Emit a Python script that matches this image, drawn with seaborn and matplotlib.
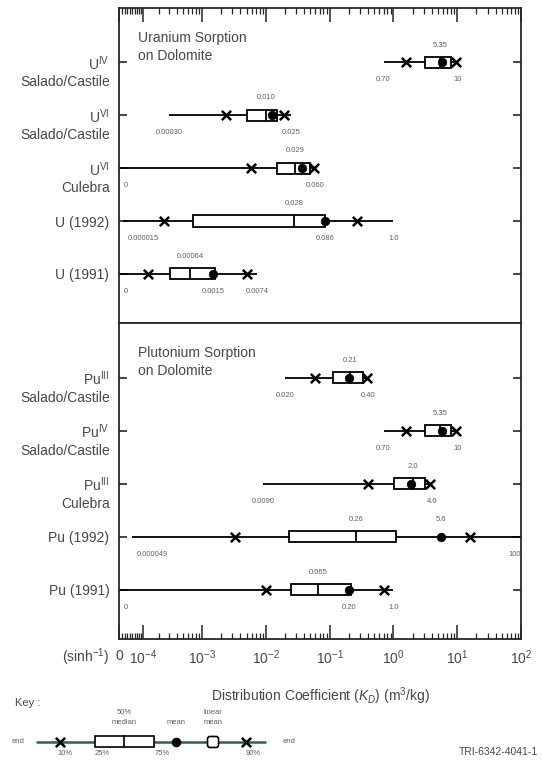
import numpy as np
import pandas as pd
import matplotlib
matplotlib.use("Agg")
import matplotlib.pyplot as plt
from matplotlib.patches import Rectangle, FancyBboxPatch
import seaborn as sns

sns.set_style("ticks")
plt.rcParams["font.family"] = ["Liberation Sans", "DejaVu Sans"]
plt.rcParams["mathtext.fontset"] = "custom"
plt.rcParams["mathtext.rm"] = "Liberation Sans"
plt.rcParams["mathtext.it"] = "Liberation Sans:italic"
plt.rcParams["mathtext.default"] = "regular"

TEXT = "#474747"
SMALL = "#606060"

# ---- Uranium sorption on dolomite ----
u_names = ["U$^{IV}$", "U$^{VI}$", "U$^{VI}$", "U (1992)", "U (1991)"]
u_sites = ["Salado/Castile", "Salado/Castile", "Culebra", "", ""]
u_min = ["0.70", "0.00030", "0", "0.000015", "0"]
u_p10 = [1.6, 0.0024, 0.0059, 0.00024, 0.000126]
u_p25 = [3.1, 0.0050, 0.015, 0.00073, 0.00031]
u_median = ["5.35", "0.010", "0.029", "0.028", "0.00064"]
u_p75 = [8.0, 0.0148, 0.049, 0.085, 0.0016]
u_p90 = [9.6, 0.019, 0.057, 0.27, 0.0050]
u_max = ["10", "0.025", "0.060", "1.0", "0.0074"]
u_mean = ["5.7", "0.0124", "0.037", "0.086", "0.0015"]
u_mean_label = ["", "", "", "below", "below"]

# ---- Plutonium sorption on dolomite ----
pu_names = ["Pu$^{III}$", "Pu$^{IV}$", "Pu$^{III}$", "Pu (1992)", "Pu (1991)"]
pu_sites = ["Salado/Castile", "Salado/Castile", "Culebra", "", ""]
pu_min = ["0.020", "0.70", "0.0090", "0.000049", "0"]
pu_p10 = [0.059, 1.6, 0.40, 0.0033, 0.010]
pu_p25 = [0.115, 3.1, 1.03, 0.023, 0.025]
pu_median = ["0.21", "5.35", "2.0", "0.26", "0.065"]
pu_p75 = [0.33, 8.0, 3.1, 1.1, 0.22]
pu_p90 = [0.38, 9.6, 3.8, 16.0, 0.70]
pu_max = ["0.40", "10", "4.0", "100", "1.0"]
pu_mean = ["0.20", "5.7", "1.9", "5.6", "0.20"]
pu_mean_label = ["", "", "", "above", "below"]

# axis ticks
major_ticks = [0, 1e-4, 1e-3, 1e-2, 1e-1, 1e0, 1e1, 1e2]
major_labels = ["0", "10$^{-4}$", "10$^{-3}$", "10$^{-2}$", "10$^{-1}$",
                "10$^{0}$", "10$^{1}$", "10$^{2}$"]
minor_ticks = [k * 1e-5 for k in range(1, 10)] + \
              [k * 10.0 ** e for e in range(-4, 2) for k in range(2, 10)]


def panel_frame(names, sites, mins, p10, p25, med, p75, p90, maxs, means, mean_lab):
    return pd.DataFrame({
        "row": np.arange(len(names)),
        "name": names, "site": sites,
        "min": [float(v) for v in mins], "min_txt": mins,
        "p10": p10, "p25": p25,
        "median": [float(v) for v in med], "median_txt": med,
        "p75": p75, "p90": p90,
        "max": [float(v) for v in maxs], "max_txt": maxs,
        "mean": [float(v) for v in means], "mean_txt": means,
        "mean_lab": mean_lab,
    })


u_df = panel_frame(u_names, u_sites, u_min, u_p10, u_p25, u_median, u_p75,
                   u_p90, u_max, u_mean, u_mean_label)
pu_df = panel_frame(pu_names, pu_sites, pu_min, pu_p10, pu_p25, pu_median,
                    pu_p75, pu_p90, pu_max, pu_mean, pu_mean_label)

fig = plt.figure(figsize=(5.42, 7.71), dpi=100)
ax_u = fig.add_axes([0.2196, 0.581, 0.7417, 0.4086])
ax_pu = fig.add_axes([0.2196, 0.1712, 0.7417, 0.4098])


def draw_panel(ax, df, title):
    y = df["row"].to_numpy()
    ax.hlines(y, df["min"], df["max"], color="black", lw=1.3, zorder=1)
    ax.barh(y, df["p75"] - df["p25"], left=df["p25"], height=0.21,
            color="white", edgecolor="black", linewidth=1.3, zorder=2)
    ax.vlines(df["median"], y - 0.105, y + 0.105, color="black", lw=1.3, zorder=3)
    pct = df.melt(id_vars="row", value_vars=["p10", "p90"], value_name="kd")
    sns.scatterplot(data=pct, x="kd", y="row", marker="x", color="black",
                    s=45, linewidth=1.8, ax=ax, legend=False, zorder=4)
    sns.scatterplot(data=df, x="mean", y="row", marker="o", color="black",
                    s=38, edgecolor="black", ax=ax, legend=False, zorder=5)

    small = dict(fontsize=5.5, color=SMALL, va="center")
    for _, r in df.iterrows():
        yy = r["row"]
        ax.text(r["median"], yy - 0.33, r["median_txt"], ha="center", **small)
        if r["min"] < 1e-4:
            # values inside the linear zone sit against the axis, so left-align
            ax.annotate(r["min_txt"], xy=(r["min"], yy + 0.33),
                        xytext=(5, 0), textcoords="offset pixels",
                        ha="left", **small)
        else:
            ax.text(r["min"], yy + 0.33, r["min_txt"], ha="center", **small)
        ax.text(r["max"], yy + 0.33, r["max_txt"],
                ha="right" if r["max"] >= 100 else "center", **small)
        if r["mean_lab"]:
            off = -0.33 if r["mean_lab"] == "above" else 0.33
            ax.text(r["mean"], yy + off, r["mean_txt"], ha="center", **small)
        if r["site"]:
            ax.annotate(r["site"], xy=(0, yy), xycoords=("axes fraction", "data"),
                        xytext=(-9, -20), textcoords="offset pixels",
                        ha="right", va="center", fontsize=10, color=TEXT)

    ax.text(0.047, 0.927, title, transform=ax.transAxes, ha="left", va="top",
            fontsize=10, color=TEXT, linespacing=1.35)

    ax.set_xscale("asinh", linear_width=1e-4)
    ax.set_xlim(0, 100)
    ax.set_ylim(4.93, -1.03)
    ax.set_xticks(major_ticks)
    ax.set_xticks(minor_ticks, minor=True)
    ax.set_yticks(y)
    ax.set_yticklabels(df["name"], fontsize=10, color=TEXT)
    ax.set_xlabel("")
    ax.set_ylabel("")
    ax.tick_params(axis="y", which="both", direction="in", left=True, right=True,
                   length=6, width=1.2, pad=7)
    ax.tick_params(axis="x", which="major", direction="in", length=10, width=1.1)
    ax.tick_params(axis="x", which="minor", direction="in", length=4.5, width=0.9)
    for s in ax.spines.values():
        s.set_linewidth(1.3)
        s.set_visible(True)


draw_panel(ax_u, u_df, "Uranium Sorption\non Dolomite")
draw_panel(ax_pu, pu_df, "Plutonium Sorption\non Dolomite")

ax_u.tick_params(axis="x", which="both", top=True, bottom=False,
                 labelbottom=False, labeltop=False)
ax_pu.tick_params(axis="x", which="both", top=False, bottom=True,
                  labelbottom=True, labelsize=10, labelcolor=TEXT, pad=7)
ax_pu.set_xticklabels(major_labels)
ax_pu.set_xlabel("Distribution Coefficient ($\\mathit{K_D}$) (m$^{3}$/kg)",
                 fontsize=10, color=TEXT, labelpad=13)
ax_pu.annotate("(sinh$^{-1}$)", xy=(0, 0), xycoords=("data", "axes fraction"),
               xytext=(-10, -18), textcoords="offset pixels",
               ha="right", va="center", fontsize=10, color=TEXT)

# ---- key ----
key = fig.add_axes([0, 0, 1, 0.12])
key.set_xlim(0, 542)
key.set_ylim(0.12 * 771, 0)
key.axis("off")
key_x = {"start": 37, "p10": 60, "p25": 95, "p50": 124, "p75": 154,
         "mean": 176, "lin": 213, "p90": 246, "end": 265}
ky = 63.5
key.text(15, 24.5, "Key :", fontsize=8, color=TEXT, va="center")
key.plot([key_x["start"], key_x["end"]], [ky, ky], color="#2e5e5a", lw=1.8, zorder=1)
key.add_patch(Rectangle((key_x["p25"], ky - 5.5), key_x["p75"] - key_x["p25"], 11,
                        facecolor="white", edgecolor="black", lw=1.2, zorder=2))
key.plot([key_x["p50"], key_x["p50"]], [ky - 5.5, ky + 5.5], color="black", lw=1.2, zorder=3)
key.scatter([key_x["p10"], key_x["p90"]], [ky, ky], marker="x", s=45,
            color="black", linewidths=1.8, zorder=4)
key.scatter([key_x["mean"]], [ky], marker="o", s=35, color="black", zorder=4)
key.add_patch(FancyBboxPatch((key_x["lin"] - 5, ky - 5), 10, 10,
                             boxstyle="round,pad=0.5,rounding_size=2.5",
                             facecolor="white", edgecolor="black", lw=1.2, zorder=4))
ks = dict(fontsize=5.5, color=SMALL, ha="center", va="center")
key.text(18, ky, "end", **ks)
key.text(289, ky, "end", **ks)
key.text(key_x["p50"], 34.5, "50%", **ks)
key.text(key_x["p50"], 44.5, "median", **ks)
key.text(key_x["mean"], 44.5, "mean", **ks)
key.text(key_x["lin"], 34.5, "linear", **ks)
key.text(key_x["lin"], 44.5, "mean", **ks)
key.text(key_x["p10"] + 5, 75.5, "10%", **ks)
key.text(key_x["p25"] + 7, 75.5, "25%", **ks)
key.text(key_x["p75"] + 8, 75.5, "75%", **ks)
key.text(key_x["p90"] + 7, 75.5, "90%", **ks)
key.text(538, 73.5, "TRI-6342-4041-1", fontsize=7.5, color=TEXT, ha="right", va="center")

fig.savefig("out.png", dpi=100)
